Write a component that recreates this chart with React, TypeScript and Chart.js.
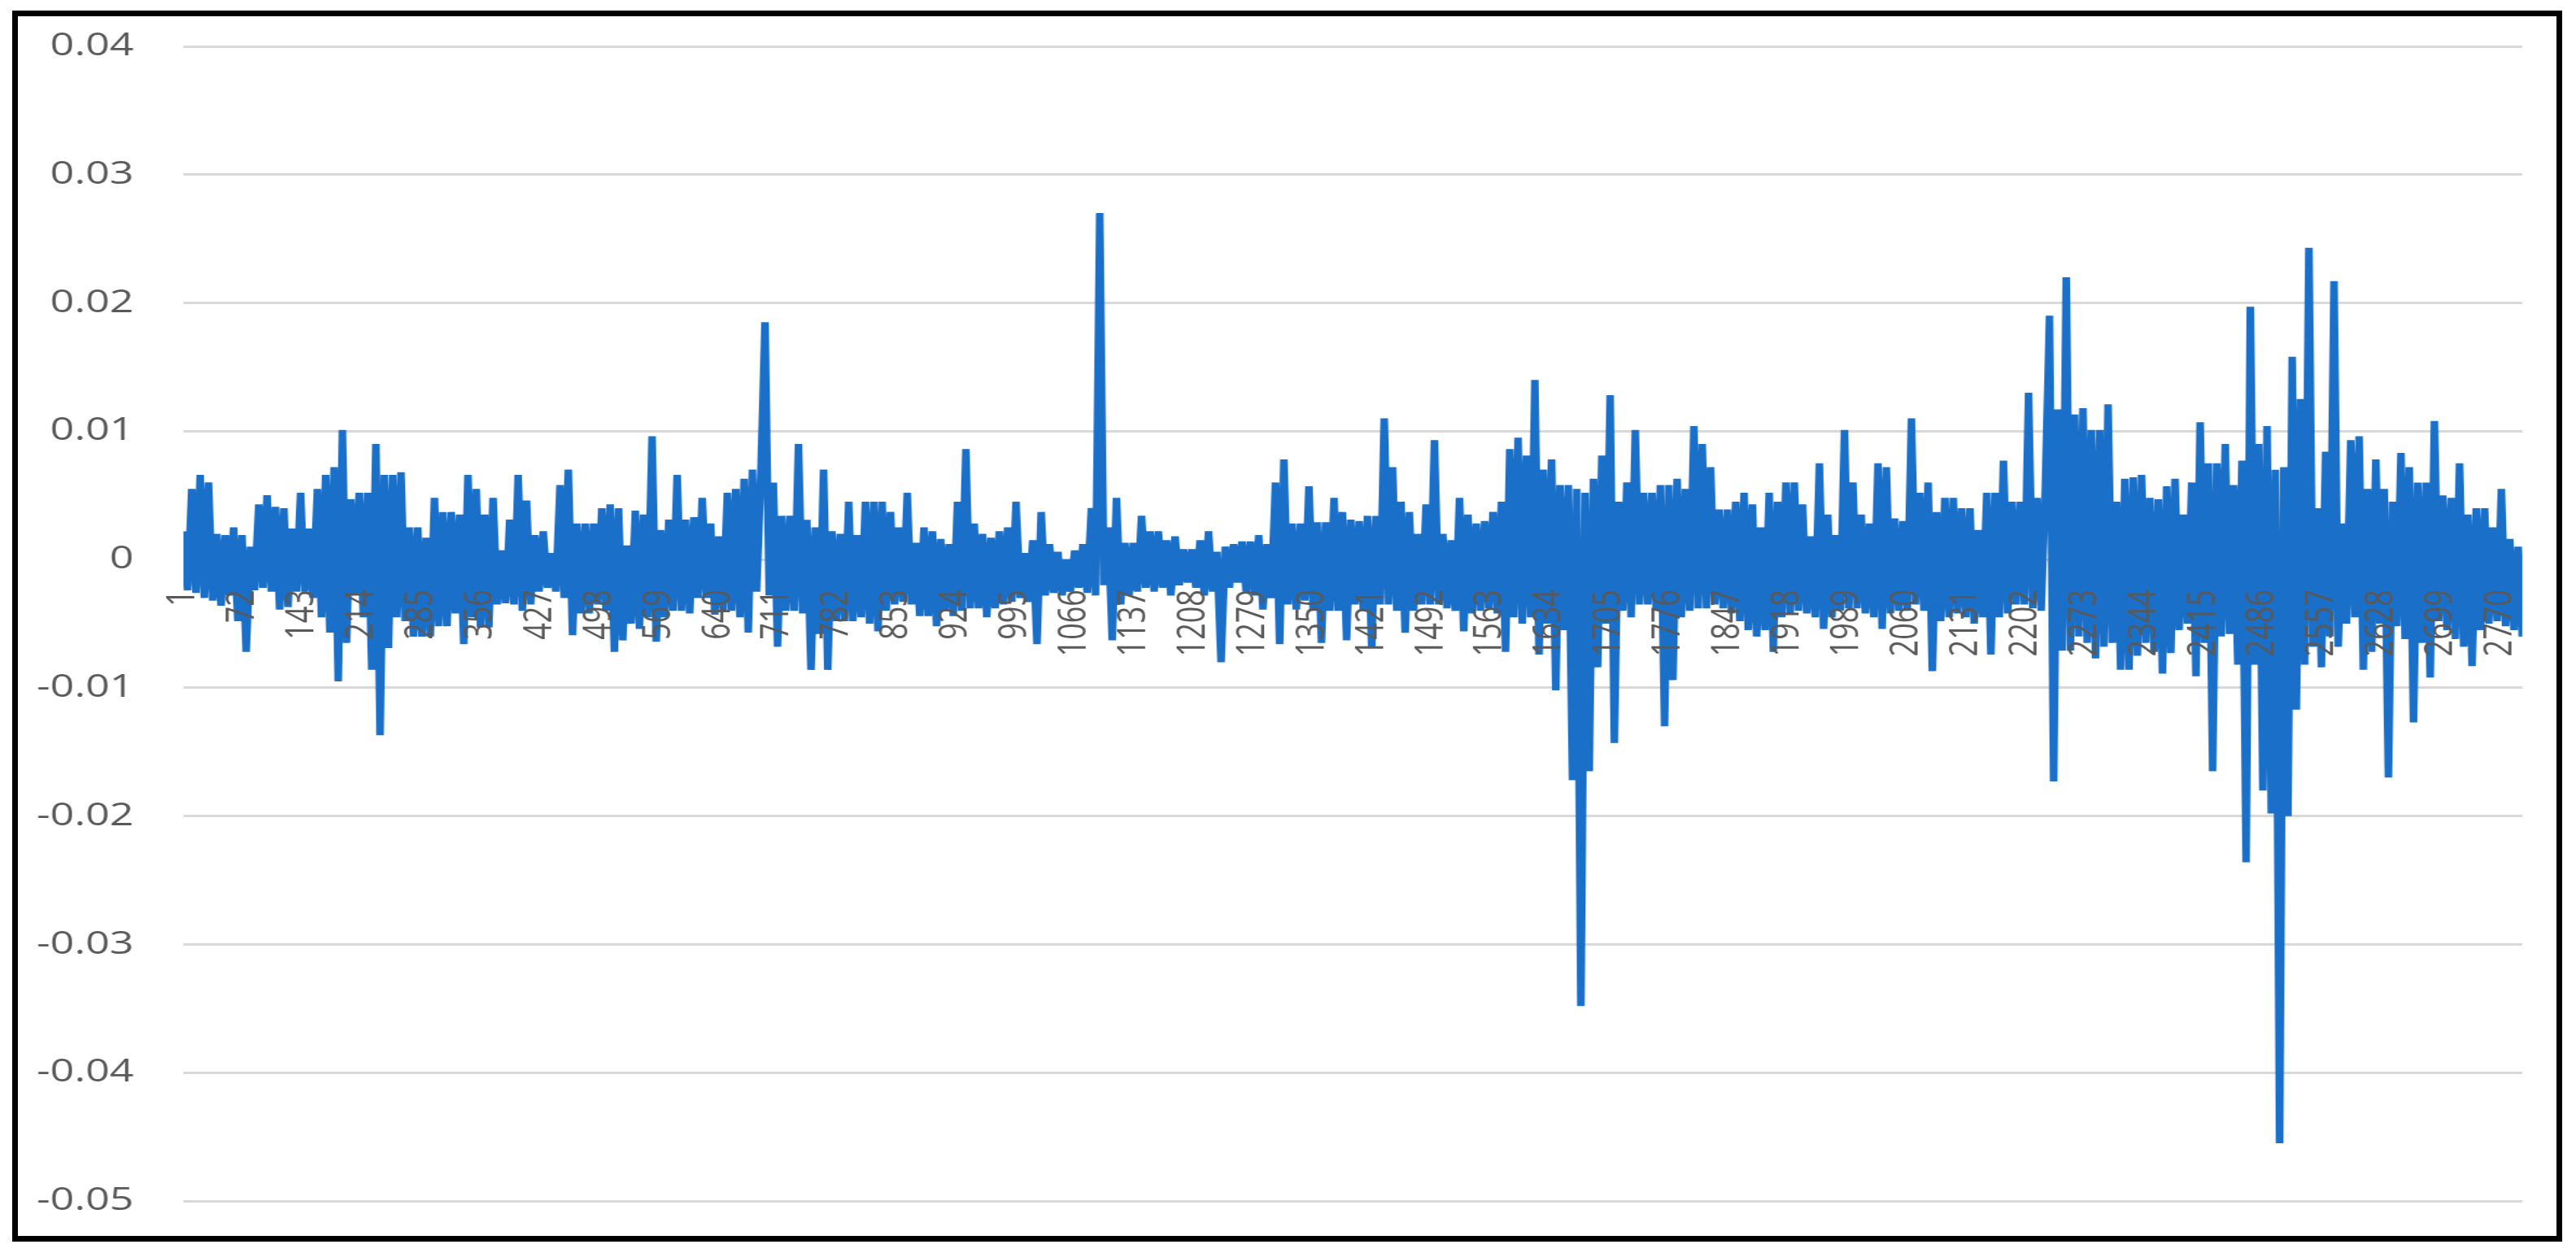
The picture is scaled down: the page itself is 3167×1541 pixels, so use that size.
import React, { useEffect, useRef } from 'react';
import { Chart, registerables } from 'chart.js';

Chart.register(...registerables);

// x positions of the sampled observations: observation number = sampleStart + index * sampleStep
const sampleStart = 1;
const sampleStep = 5;
const xMin = 1;
const xMax = 2796;

const xTickLabels = [
  1, 72, 143, 214, 285, 356, 427, 498, 569, 640, 711, 782, 853, 924, 995, 1066, 1137, 1208, 1279, 1350,
  1421, 1492, 1563, 1634, 1705, 1776, 1847, 1918, 1989, 2060, 2131, 2202, 2273, 2344, 2415, 2486, 2557,
  2628, 2699, 2770,
];

const yMin = -0.05;
const yMax = 0.04;
const yStep = 0.01;

// observations 1 - 696
const returnsSeg1 = [
  0.0022, -0.0024, 0.0055, -0.0026, 0.0066, -0.003, 0.006, -0.0032, 0.002, -0.0036,
  0.0019, -0.0028, 0.0025, -0.0048, 0.0019, -0.0072, 0.001, -0.0024, 0.0043, -0.0022,
  0.005, -0.0025, 0.0041, -0.0039, 0.004, -0.0037, 0.0024, -0.0025, 0.0052, -0.0025,
  0.0024, -0.003, 0.0055, -0.0045, 0.0066, -0.0057, 0.0072, -0.0095, 0.0101, -0.0065,
  0.0047, -0.0027, 0.0052, -0.0045, 0.0052, -0.0086, 0.009, -0.0137, 0.0066, -0.0069,
  0.0066, -0.0045, 0.0068, -0.0048, 0.0025, -0.006, 0.0025, -0.006, 0.0017, -0.006,
  0.0048, -0.0052, 0.0037, -0.0052, 0.0037, -0.0042, 0.0035, -0.0066, 0.0066, -0.0045,
  0.0055, -0.0053, 0.0035, -0.0053, 0.0048, -0.0035, 0.0007, -0.0034, 0.0031, -0.0035,
  0.0066, -0.004, 0.0046, -0.0035, 0.0019, -0.0025, 0.0022, -0.0022, 0.0005, -0.0025,
  0.0058, -0.003, 0.007, -0.0059, 0.0028, -0.0042, 0.0028, -0.0042, 0.0028, -0.0035,
  0.004, -0.004, 0.0043, -0.0072, 0.004, -0.0063, 0.0011, -0.005, 0.0038, -0.0054,
  0.0035, -0.0045, 0.0096, -0.0064, 0.0023, -0.0045, 0.0031, -0.004, 0.0066, -0.004,
  0.0031, -0.0042, 0.0033, -0.003, 0.0048, -0.003, 0.0028, -0.0043, 0.0018, -0.004,
  0.0052, -0.004, 0.0055, -0.0045, 0.0063, -0.0057, 0.007, -0.0025, 0.0065, 0.0185,
];

// observations 701 - 1396
const returnsSeg2 = [
  -0.0028, 0.006, -0.0068, 0.0034, -0.004, 0.0034, -0.004, 0.009, -0.0042, 0.0031,
  -0.0086, 0.0025, -0.0058, 0.007, -0.0086, 0.0022, -0.0048, 0.002, -0.0048, 0.0045,
  -0.0048, 0.0019, -0.0045, 0.0045, -0.005, 0.0045, -0.0056, 0.0045, -0.004, 0.0037,
  -0.0035, 0.0025, -0.0033, 0.0052, -0.0035, 0.0013, -0.0044, 0.0025, -0.0044, 0.0022,
  -0.0052, 0.0016, -0.004, 0.0012, -0.0044, 0.0045, -0.004, 0.0086, -0.0038, 0.0028,
  -0.0038, 0.002, -0.0045, 0.0017, -0.0038, 0.0022, -0.0035, 0.0025, -0.0033, 0.0045,
  -0.003, 0.0005, -0.0033, 0.0015, -0.0066, 0.0037, -0.0028, 0.0012, -0.0026, 0.0006,
  -0.0028, 0.0, -0.0025, 0.0007, -0.0022, 0.0012, -0.0026, 0.004, -0.0028, 0.027,
  -0.002, 0.0025, -0.0063, 0.0048, -0.0035, 0.0013, -0.0028, 0.0013, -0.0025, 0.0034,
  -0.0022, 0.0022, -0.0025, 0.0022, -0.0022, 0.0015, -0.0028, 0.0018, -0.002, 0.0008,
  -0.0018, 0.0008, -0.0022, 0.0015, -0.0028, 0.0022, -0.0025, 0.0006, -0.008, 0.001,
  -0.0022, 0.0012, -0.0018, 0.0014, -0.0025, 0.0014, -0.0028, 0.0019, -0.0039, 0.0012,
  -0.003, 0.006, -0.0066, 0.0078, -0.0035, 0.0028, -0.0039, 0.0028, -0.0032, 0.0057,
  -0.004, 0.0029, -0.0065, 0.0029, -0.004, 0.0048, -0.004, 0.0037, -0.0063, 0.0031,
];

// observations 1401 - 2101
const returnsSeg3 = [
  -0.0035, 0.003, -0.004, 0.0034, -0.0069, 0.0034, -0.0035, 0.011, -0.0035, 0.0072,
  -0.004, 0.0045, -0.0057, 0.0037, -0.004, 0.002, -0.0035, 0.0043, -0.0035, 0.0093,
  -0.0035, 0.002, -0.0038, 0.0015, -0.004, 0.0048, -0.0056, 0.0035, -0.0042, 0.0028,
  -0.004, 0.003, -0.0038, 0.0037, -0.0042, 0.0045, -0.0072, 0.0086, -0.0045, 0.0095,
  -0.005, 0.0081, -0.0045, 0.014, -0.0074, 0.007, -0.005, 0.0078, -0.0102, 0.0058,
  -0.0055, 0.0058, -0.0172, 0.0055, -0.0348, 0.0052, -0.0165, 0.0063, -0.0084, 0.0081,
  -0.005, 0.0128, -0.0143, 0.0045, -0.004, 0.006, -0.0045, 0.0101, -0.0035, 0.0052,
  -0.0035, 0.0052, -0.004, 0.0058, -0.013, 0.0058, -0.0094, 0.0063, -0.0045, 0.0055,
  -0.004, 0.0104, -0.0038, 0.009, -0.0038, 0.0072, -0.0035, 0.0039, -0.0038, 0.0039,
  -0.0042, 0.0045, -0.0048, 0.0052, -0.0055, 0.0043, -0.006, 0.0025, -0.0055, 0.0052,
  -0.0072, 0.0045, -0.0045, 0.006, -0.0042, 0.006, -0.004, 0.0043, -0.0042, 0.0018,
  -0.0045, 0.0075, -0.0054, 0.0035, -0.0045, 0.0019, -0.004, 0.0101, -0.0038, 0.006,
  -0.0038, 0.0035, -0.0042, 0.0028, -0.0045, 0.0075, -0.0054, 0.0072, -0.0042, 0.0032,
  -0.004, 0.003, -0.004, 0.011, -0.0035, 0.0052, -0.004, 0.006, -0.0087, 0.0037,
  -0.0048,
];

// observations 2106 - 2796
const returnsSeg4 = [
  0.0048, -0.0045, 0.0048, -0.0042, 0.004, -0.0045, 0.004, -0.005, 0.0023, -0.0045,
  0.0052, -0.0074, 0.0052, -0.0045, 0.0077, -0.0042, 0.0045, -0.0035, 0.0045, -0.0035,
  0.013, -0.0038, 0.0048, -0.004, 0.0057, 0.019, -0.0173, 0.0117, -0.0071, 0.022,
  -0.0071, 0.0113, -0.006, 0.0118, -0.0065, 0.0101, -0.0077, 0.0101, -0.0068, 0.0121,
  -0.0065, 0.0045, -0.0086, 0.0063, -0.0086, 0.0064, -0.0075, 0.0066, -0.0065, 0.0048,
  -0.0072, 0.0047, -0.0089, 0.0057, -0.0073, 0.0063, -0.0055, 0.0035, -0.005, 0.006,
  -0.0091, 0.0107, -0.0065, 0.0075, -0.0165, 0.0075, -0.006, 0.009, -0.0058, 0.0058,
  -0.0082, 0.0077, -0.0236, 0.0197, -0.0082, 0.009, -0.018, 0.0104, -0.0198, 0.007,
  -0.0455, 0.0072, -0.02, 0.0158, -0.0117, 0.0125, -0.0082, 0.0243, -0.0068, 0.004,
  -0.0084, 0.0084, -0.006, 0.0217, -0.0068, 0.0028, -0.005, 0.0093, -0.0045, 0.0096,
  -0.0086, 0.0055, -0.0072, 0.0078, -0.005, 0.0055, -0.017, 0.0045, -0.0052, 0.0083,
  -0.0062, 0.0072, -0.0127, 0.006, -0.0065, 0.006, -0.0092, 0.0108, -0.0048, 0.005,
  -0.0055, 0.0048, -0.0062, 0.0075, -0.0068, 0.0035, -0.0083, 0.004, -0.0055, 0.004,
  -0.005, 0.0025, -0.0048, 0.0055, -0.0052, 0.0016, -0.0055, 0.001, -0.006,
];

const LINE_COLOR = '#1a6fc9';
const TEXT_COLOR = '#595959';
const GRID_COLOR = '#d9d9d9';

// The chart is drawn narrower and widened horizontally, like the stretched original
const STRETCH = 1.33;
const CANVAS_W = 2347;
const CANVAS_H = 1500;

export default function App() {
  const ref = useRef<HTMLCanvasElement | null>(null);

  useEffect(() => {
    const canvas = ref.current;
    if (!canvas) return;
    const values = [...returnsSeg1, ...returnsSeg2, ...returnsSeg3, ...returnsSeg4];
    const points = values.map((v, i) => ({ x: sampleStart + i * sampleStep, y: v }));

    const chart = new Chart(canvas, {
      type: 'line',
      data: {
        datasets: [
          {
            data: points,
            borderColor: LINE_COLOR,
            backgroundColor: LINE_COLOR,
            borderWidth: 7,
            pointRadius: 0,
            pointHoverRadius: 0,
            borderJoinStyle: 'bevel',
            tension: 0,
            fill: false,
          },
        ],
      },
      options: {
        animation: false,
        responsive: false,
        devicePixelRatio: 1,
        events: [],
        layout: { padding: { left: 0, top: 37, right: 32, bottom: 43 } },
        plugins: {
          legend: { display: false },
          tooltip: { enabled: false },
          title: { display: false },
        },
        scales: {
          x: {
            type: 'linear',
            min: xMin,
            max: xMax,
            position: { y: 0 } as any,
            grid: { display: false },
            border: { display: false },
            afterBuildTicks: (scale: any) => {
              scale.ticks = xTickLabels.map((v) => ({ value: v }));
            },
            afterFit: (scale: any) => {
              scale.paddingLeft = 0;
              scale.paddingRight = 0;
              scale.paddingTop = 0;
              scale.paddingBottom = 0;
            },
            ticks: {
              autoSkip: false,
              minRotation: 90,
              maxRotation: 90,
              padding: 29,
              color: TEXT_COLOR,
              font: { family: "'Open Sans', 'Noto Sans', sans-serif", size: 36 },
              z: 1,
              callback: (v: any) => String(v),
            },
          },
          y: {
            type: 'linear',
            min: yMin,
            max: yMax,
            afterFit: (scale: any) => {
              scale.width = 153;
              scale.paddingTop = 0;
              scale.paddingBottom = 0;
            },
            grid: { color: GRID_COLOR, lineWidth: 3, drawTicks: false },
            border: { display: false },
            ticks: {
              stepSize: yStep,
              padding: 46,
              color: TEXT_COLOR,
              font: { family: "'Open Sans', 'Noto Sans', sans-serif", size: 39 },
              callback: (v: any) => {
                const n = Number(v);
                if (Math.abs(n) < 1e-9) return '0';
                return n.toFixed(2);
              },
            },
          },
        },
      },
    });

    return () => chart.destroy();
  }, []);

  return (
    <>
      <div
        style={{
          position: 'absolute',
          left: 15,
          top: 13,
          width: 3135,
          height: 1514,
          border: '7px solid #000',
          boxSizing: 'border-box',
          background: '#fff',
        }}
      />
      <div
        style={{
          position: 'absolute',
          left: 22,
          top: 20,
          width: CANVAS_W,
          height: CANVAS_H,
          transform: `scaleX(${STRETCH})`,
          transformOrigin: '0 0',
        }}
      >
        <canvas ref={ref} width={CANVAS_W} height={CANVAS_H} />
      </div>
    </>
  );
}
